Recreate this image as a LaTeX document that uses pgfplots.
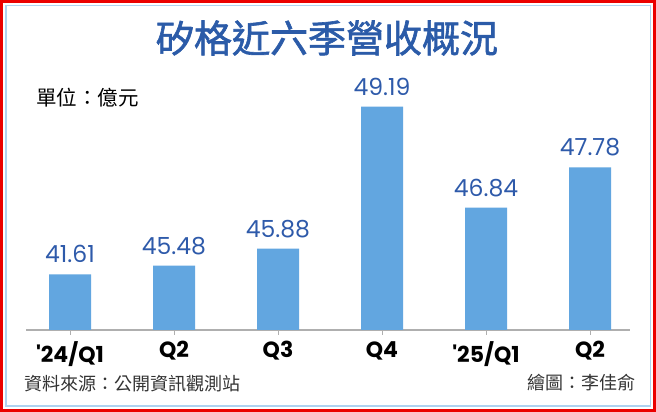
\documentclass[border=0pt]{standalone}
\usepackage{pgfplots}
\pgfplotsset{compat=1.18}
\usepackage{pgfplotstable}
\usepackage{fontspec}
\setmainfont{Poppins}
\newfontfamily\cjk{Noto Sans CJK TC}
\newfontfamily\cjktitle{Noto Sans CJK TC}[FakeBold=1.6]

\definecolor{barblue}{RGB}{98,166,224}
\definecolor{numblue}{RGB}{46,90,170}
\definecolor{titleblue}{RGB}{43,91,168}
\definecolor{framered}{RGB}{235,0,0}
\definecolor{innerblue}{RGB}{175,210,240}
\definecolor{axisgray}{RGB}{175,175,175}

% drawn = bar height as drawn in the chart (not to scale), value = printed revenue
\pgfplotstableread{
x drawn value
0 55.7  41.61
1 64.3  45.48
2 81.3  45.88
3 223.3 49.19
4 122.3 46.84
5 162.7 47.78
}\revenue

\begin{document}
\begin{tikzpicture}
  \fill[white] (0pt,0pt) rectangle (656pt,412pt);
  \draw[framered, line width=3pt] (1.5pt,1.5pt) rectangle (654.5pt,410.5pt);
  \draw[innerblue, line width=1.5pt] (5.75pt,5.75pt) rectangle (650.25pt,406.25pt);

  \node[titleblue, font=\cjktitle\fontsize{38}{38}\selectfont, inner sep=0pt]
    at (327pt,374pt) {矽格近六季營收概況};
  \node[black, font=\cjk\fontsize{20.5}{20.5}\selectfont, inner sep=0pt, anchor=west]
    at (36pt,314pt) {單位：億元};
  \node[black!80, font=\cjk\fontsize{18}{18}\selectfont, inner sep=0pt, anchor=west]
    at (24pt,28pt) {資料來源：公開資訊觀測站};
  \node[black!80, font=\cjk\fontsize{18}{18}\selectfont, inner sep=0pt, anchor=east]
    at (636pt,29pt) {繪圖：李佳俞};

  \begin{axis}[
    at={(26pt,82pt)}, anchor=south west,
    scale only axis, width=604pt, height=250pt,
    xmin=-0.4231, xmax=5.3846, ymin=0, ymax=250,
    axis x line=bottom, axis y line=none, hide y axis,
    x axis line style={axisgray, line width=1.5pt, -},
    xtick=data,
    xticklabels={\textquotesingle24/Q1,Q2,Q3,Q4,\textquotesingle25/Q1,Q2},
    tick align=outside, major tick length=5pt,
    tick style={axisgray, line width=1pt},
    xticklabel style={font=\bfseries\fontsize{22}{22}\selectfont, black,
      anchor=north, inner sep=2pt, yshift=-4pt},
    ytick=\empty,
    clip=false,
  ]
    \addplot[ybar, bar width=42pt, fill=barblue, draw=none,
      nodes near coords, point meta=explicit symbolic,
      nodes near coords style={font=\fontsize{23.5}{23.5}\selectfont, numblue,
        anchor=south, inner sep=0pt, yshift=11pt}]
      table[x=x, y=drawn, meta=value]{\revenue};
  \end{axis}
\end{tikzpicture}
\end{document}
